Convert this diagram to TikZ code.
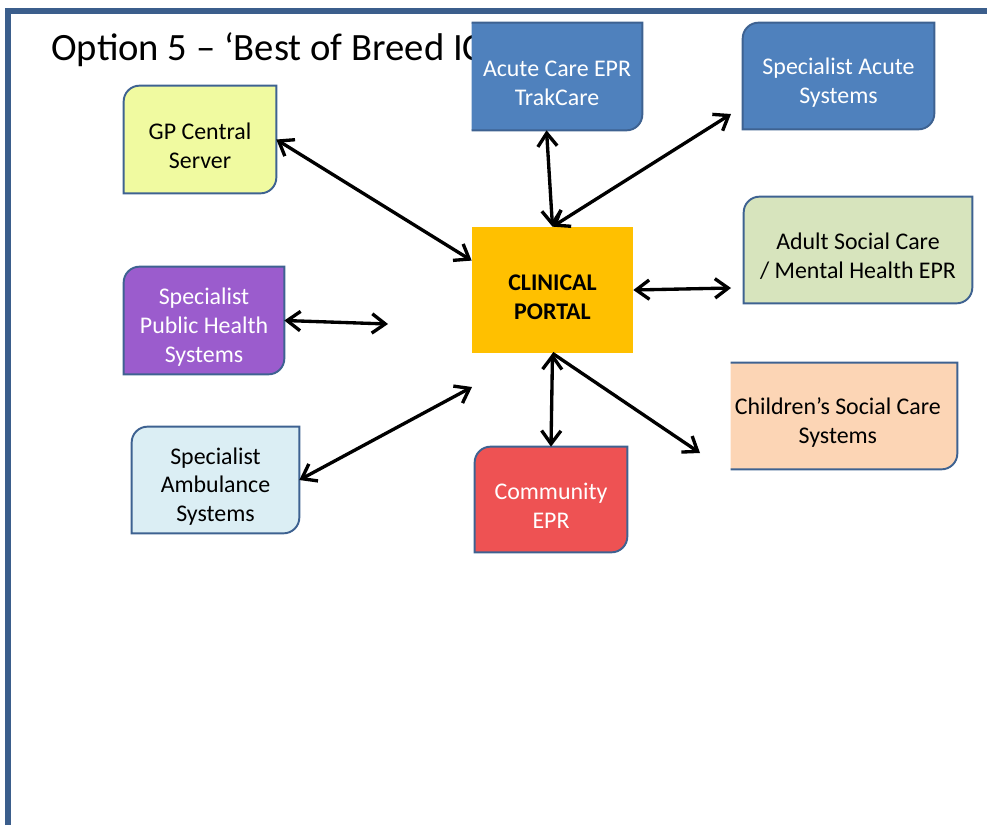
\documentclass[tikz,border=0pt]{standalone}
\usepackage{fontspec}
\setmainfont{Carlito}
\usetikzlibrary{arrows.meta}
\pgfdeclarelayer{background}
\pgfsetlayers{background,main}
\definecolor{frameblue}{RGB}{59,94,140}
\definecolor{edgeblue}{RGB}{62,98,145}
\definecolor{gpfill}{RGB}{240,250,160}
\definecolor{acutefill}{RGB}{79,129,189}
\definecolor{adultfill}{RGB}{215,228,189}
\definecolor{childfill}{RGB}{252,213,181}
\definecolor{commfill}{RGB}{238,82,83}
\definecolor{publicfill}{RGB}{155,92,205}
\definecolor{ambfill}{RGB}{219,238,244}
\definecolor{portalfill}{RGB}{255,192,0}
\newcommand{\boxrad}{9pt}
\newcommand{\topgap}{\rule{0pt}{16.8pt}}
% box with round top-left and bottom-right corners
\newcommand{\diagbox}[2]{%
  \begin{pgfonlayer}{background}
  \filldraw[boxline,fill=#2] ([xshift=\boxrad]#1.north west) -- (#1.north east)
    -- ([yshift=\boxrad]#1.south east) arc[start angle=0,end angle=-90,radius=\boxrad]
    -- (#1.south west) -- ([yshift=-\boxrad]#1.north west)
    arc[start angle=180,end angle=90,radius=\boxrad] -- cycle;
  \end{pgfonlayer}}
% box cut off at its left side
\newcommand{\cutbox}[2]{%
  \begin{pgfonlayer}{background}
  \fill[#2] (#1.north west) -- (#1.north east)
    -- ([yshift=\boxrad]#1.south east) arc[start angle=0,end angle=-90,radius=\boxrad]
    -- (#1.south west) -- cycle;
  \draw[boxline] (#1.north west) -- (#1.north east)
    -- ([yshift=\boxrad]#1.south east) arc[start angle=0,end angle=-90,radius=\boxrad]
    -- (#1.south west);
  \end{pgfonlayer}}
\tikzset{
  boxline/.style={draw=edgeblue,line width=1.1pt},
  sysbox/.style={inner sep=0pt,align=center,font=\fontsize{13.6}{16.4}\selectfont},
  link/.style={<->,line width=1.9pt},
}
\begin{document}
\begin{tikzpicture}[x=0.02cm,y=-0.02cm,>={Straight Barb[length=7.5pt,width=11pt]}]
        \useasboundingbox (0,0) rectangle (987,825);
        % Frame
        \draw[frameblue,line width=3.4pt] (8,825) -- (8,11) -- (987,11);
        % Title
        \begin{pgfonlayer}{background}
        \node[anchor=base west,inner sep=0pt,font=\fontsize{22}{26}\selectfont] (title) at (51,60) {Option 5 – ‘Best of Breed IC};
        \end{pgfonlayer}
        % Systems
        \node[sysbox,minimum width=3.04cm,minimum height=2.14cm] (gp) at (200,139.5) {\topgap GP Central\\Server};
        \node[sysbox,minimum width=3.40cm,minimum height=2.14cm,text=white] (acute) at (557,76.5) {\topgap Acute Care EPR\\TrakCare};
        \node[sysbox,minimum width=3.82cm,minimum height=2.12cm,text=white] (specacute) at (838.5,76) {\topgap Specialist Acute\\Systems};
        \node[sysbox,minimum width=4.56cm,minimum height=2.12cm] (adult) at (858,250) {\topgap Adult Social Care\\/ Mental Health EPR};
        \node[sysbox,minimum width=4.52cm,minimum height=2.12cm] (children) at (844,416) {\topgap Children’s Social Care\hspace*{7pt}\\Systems\hspace*{7pt}};
        \node[sysbox,minimum width=3.04cm,minimum height=2.10cm,text=white] (community) at (551,499.5) {\topgap Community\\EPR};
        \node[sysbox,minimum width=3.20cm,minimum height=2.14cm,text=white] (public) at (204,320.5) {\topgap Specialist\\Public Health\\Systems};
        \node[sysbox,minimum width=3.34cm,minimum height=2.12cm] (ambulance) at (215.5,480) {\topgap Specialist\\Ambulance\\Systems};
        \diagbox{gp}{gpfill}
        \cutbox{acute}{acutefill}
        \diagbox{specacute}{acutefill}
        \diagbox{adult}{adultfill}
        \cutbox{children}{childfill}
        \diagbox{community}{commfill}
        \diagbox{public}{publicfill}
        \diagbox{ambulance}{ambfill}
        % Clinical Portal
        \node[sysbox,minimum width=3.22cm,minimum height=2.52cm,fill=portalfill,font=\fontsize{13.6}{16.4}\selectfont\bfseries] (portal) at (552.5,290) {\topgap CLINICAL\\PORTAL};
        % Free ends
        \coordinate (specacute-end) at (731,114);
        \coordinate (adult-end) at (731,288);
        \coordinate (public-end) at (388,324);
        \coordinate (ambulance-end) at (472,387);
        \coordinate (children-end) at (700,453);
        % Links
        \draw[link] (gp.east) -- (portal.160);
        \draw[link] (acute.259) -- (portal.north);
        \draw[link] (portal.north) -- (specacute-end);
        \draw[link] (portal.east) -- (adult-end);
        \draw[link] (public.east) -- (public-end);
        \draw[link] (ambulance.east) -- (ambulance-end);
        \draw[link] (portal.south) -- (community.north);
        \draw[->,line width=1.9pt] (portal.south) -- (children-end);
\end{tikzpicture}
\end{document}
